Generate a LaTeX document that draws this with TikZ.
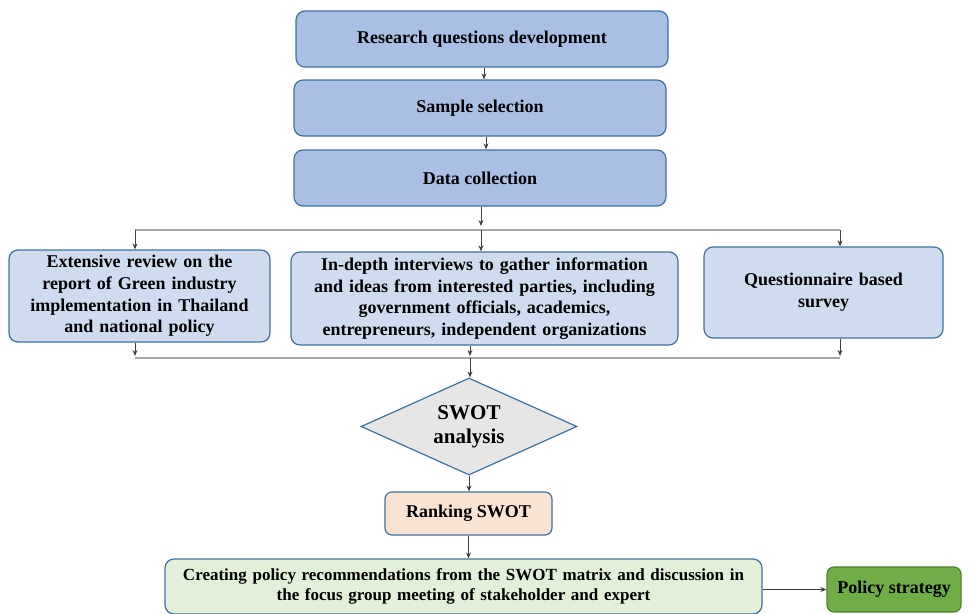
\documentclass[tikz,border=0pt]{standalone}
\usepackage{fontspec}
\setmainfont{Liberation Serif}
\usetikzlibrary{shapes.geometric,arrows.meta}
\definecolor{bord}{HTML}{41719C}
\definecolor{topfill}{HTML}{A9C0E4}
\definecolor{midfill}{HTML}{CFDCEF}
\definecolor{dfill}{HTML}{E6E6E6}
\definecolor{rfill}{HTML}{FBE3D4}
\definecolor{gfill}{HTML}{E2F0D9}
\definecolor{pfill}{HTML}{70AD47}
\definecolor{pbord}{HTML}{507E32}
\tikzset{
  x=1pt,y=-1pt,
  basebox/.style={draw=bord, line width=1.2pt, rounded corners=9pt, align=center, inner sep=2pt,
    font=\fontsize{18}{21.7}\selectfont\bfseries},
  topbox/.style={basebox, fill=topfill},
  midbox/.style={basebox, fill=midfill},
  conn/.style={draw=black!75, line width=0.8pt, -{Stealth[length=6pt,width=5pt]}},
  hline/.style={draw=gray!70, line width=1.3pt},
}
\begin{document}
\begin{tikzpicture}
\useasboundingbox (0,0) rectangle (969,613);
\node[topbox, minimum width=372, minimum height=56] (rq) at (482,39) {Research questions development};
\node[topbox, minimum width=372, minimum height=56] (ss) at (480,108) {Sample selection};
\node[topbox, minimum width=372, minimum height=56] (dc) at (480,178) {Data collection};
\node[midbox, minimum width=261, minimum height=92, text width=255] (ra) at (139.5,296)
  {Extensive review on the\\report of Green industry\\implementation in Thailand\\and national policy};
\node[midbox, minimum width=387, minimum height=93, text width=382] (rb) at (484.5,298.5)
  {In-depth interviews to gather information\\and ideas from interested parties, including\\government officials, academics,\\entrepreneurs, independent organizations};
\node[midbox, minimum width=239, minimum height=91, text width=230] (rc) at (823.5,292.5)
  {Questionnaire based\\survey};
\node[draw=bord, line width=1.2pt, fill=dfill, shape=diamond, aspect=2.2, inner sep=0pt,
  minimum width=216, minimum height=97, align=center,
  font=\fontsize{21}{24}\selectfont\bfseries] (sw) at (469,426.5) {SWOT\\analysis};
\node[basebox, fill=rfill, minimum width=167, minimum height=43, rounded corners=7pt] (rk) at (468.5,513.5) {Ranking SWOT};
\node[basebox, fill=gfill, minimum width=597, minimum height=55, text width=590,
  font=\fontsize{17}{20}\selectfont\bfseries] (cp) at (463.5,586.5)
  {Creating policy recommendations from the SWOT matrix and discussion in\\the focus group meeting of stakeholder and expert};
\node[draw=pbord, line width=1.2pt, rounded corners=7pt, fill=pfill, minimum width=134, minimum height=45,
  font=\fontsize{18}{21}\selectfont\bfseries] (ps) at (894,589.5) {Policy strategy};
% coordinates
\coordinate (s0) at (481,226);
\coordinate (sl) at (135,230);
\coordinate (sm) at (481,230);
\coordinate (sr) at (840,230);
\coordinate (ml) at (135,358);
\coordinate (mm) at (470,358);
\coordinate (mr) at (840,358);
\coordinate (el) at (135,356);
\coordinate (em) at (470,356);
\coordinate (er) at (840,356);
% connectors
\draw[conn] (rq.south -| 484,0) -- (ss.north -| 484,0);
\draw[conn] (ss.south -| 486,0) -- (dc.north -| 486,0);
\draw[conn] (dc.south -| s0) -- (s0);
\draw[hline] (sl) -- (sr);
\draw[conn] (sl) -- (sl |- ra.north);
\draw[conn] (sm) -- (sm |- rb.north);
\draw[conn] (sr) -- (sr |- rc.north);
\draw[conn] (ra.south -| el) -- (el);
\draw[conn] (rb.south -| em) -- (em);
\draw[conn] (rc.south -| er) -- (er);
\draw[hline] (ml) -- (mr);
\draw[conn] (mm) -- (mm |- sw.north);
\draw[conn] (sw.south) -- (sw.south |- rk.north);
\draw[conn] (rk.south) -- (rk.south |- cp.north);
\draw[conn] (cp.east |- ps.west) -- (ps.west);
\end{tikzpicture}
\end{document}
